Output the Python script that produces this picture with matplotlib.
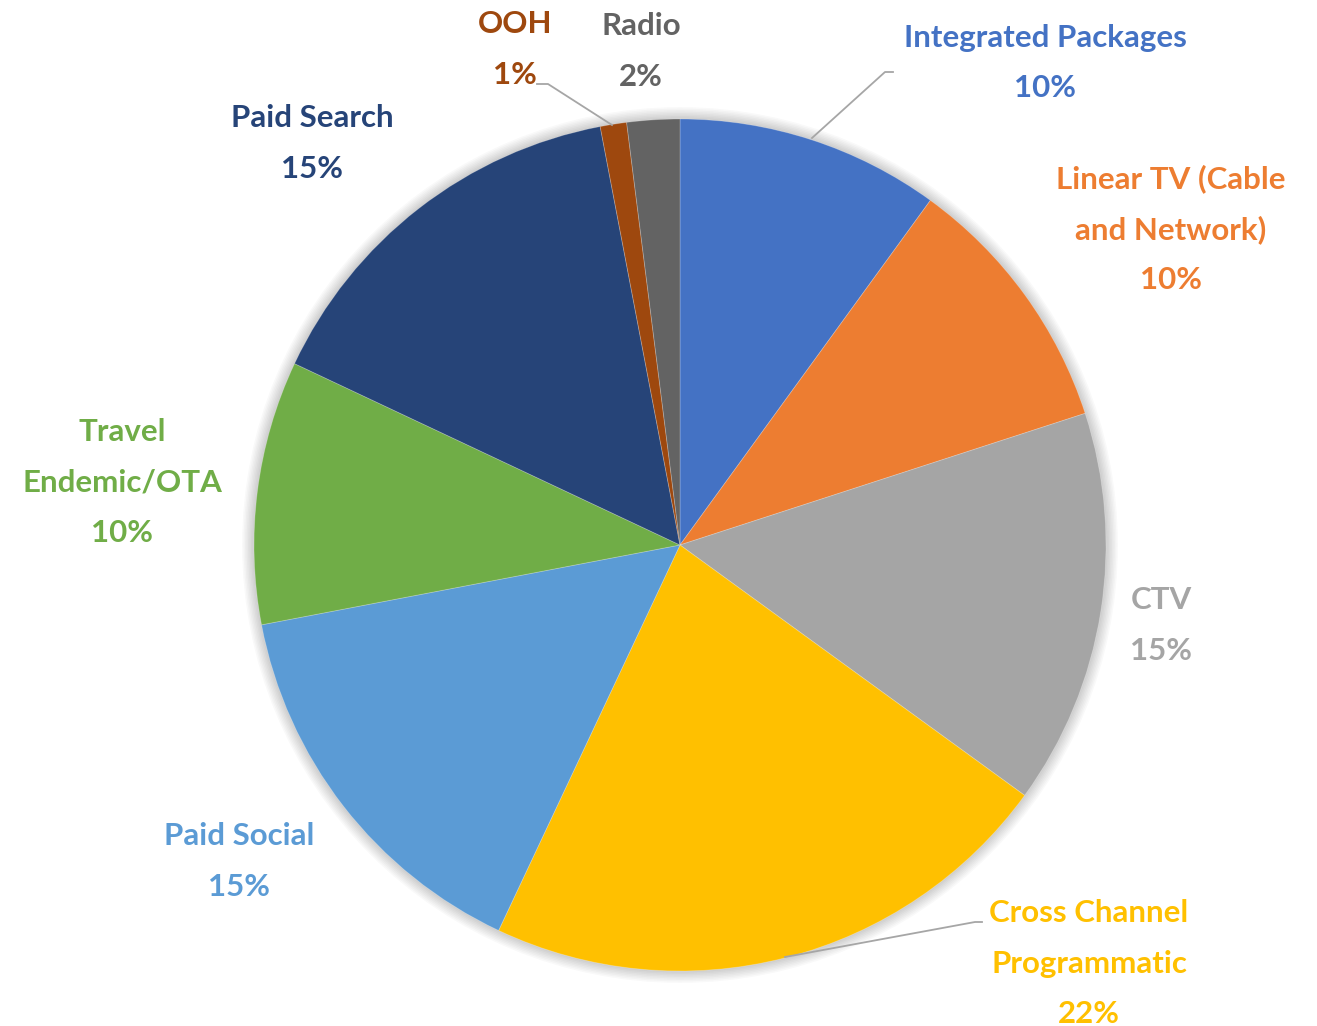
import matplotlib
matplotlib.use("Agg")
import matplotlib.pyplot as plt

categories = ["Integrated Packages", "Linear TV (Cable\nand Network)", "CTV",
              "Cross Channel\nProgrammatic", "Paid Social", "Travel\nEndemic/OTA",
              "Paid Search", "OOH", "Radio"]
values = [10, 10, 15, 22, 15, 10, 15, 1, 2]
colors = ["#4472C4", "#ED7D31", "#A5A5A5", "#FFC000", "#5B9BD5", "#70AD47",
          "#264478", "#9E480E", "#636363"]

W, H = 1317, 1026
CX, CY, R = 680, 545, 426

def P(px, py):
    return ((px - CX) / R, (CY - py) / R)

# label anchor (pixel) of first line centre
label_pos = [(1045, 38), (1171, 179), (1161, 600), (1089, 913), (239, 836),
             (122, 432), (312, 118), (515, 24), (641, 26)]
leaders = {0: [(812, 138), (885, 72), (893, 72)],
           3: [(785, 957), (975, 922), (982, 922)],
           7: [(612, 125), (548, 84), (537, 84)]}

plt.rcParams['font.family'] = ['Lato', 'DejaVu Sans']
fig = plt.figure(figsize=(W / 100, H / 100), dpi=100)
ax = fig.add_axes([0, 0, 1, 1])
ax.axis('off')

# soft shadow
for k in range(8):
    c = plt.Circle((0, 0), 1.0 + 0.0035 * (k + 1), color='black', alpha=0.025, lw=0, zorder=0)
    ax.add_patch(c)

ax.pie(values, colors=colors, startangle=90, counterclock=False, radius=1.0,
       wedgeprops=dict(linewidth=0.6, edgecolor='#ffffff40'))
ax.set_aspect('auto')
ax.set_xlim(-CX / R, (W - CX) / R)
ax.set_ylim(-(H - CY) / R, CY / R)

LS = 50.5
for i, (cat, val, col) in enumerate(zip(categories, values, colors)):
    lines = cat.split("\n") + [f"{val}%"]
    x0, y0 = label_pos[i]
    for j, t in enumerate(lines):
        ax.text(*P(x0, y0 + j * LS), t, color=col, fontsize=22.5, fontweight='bold',
                ha='center', va='center')

for i, pts in leaders.items():
    xs, ys = zip(*[P(*p) for p in pts])
    ax.plot(xs, ys, color='#A6A6A6', lw=1.3, zorder=5)

fig.savefig("out.png", dpi=100)
